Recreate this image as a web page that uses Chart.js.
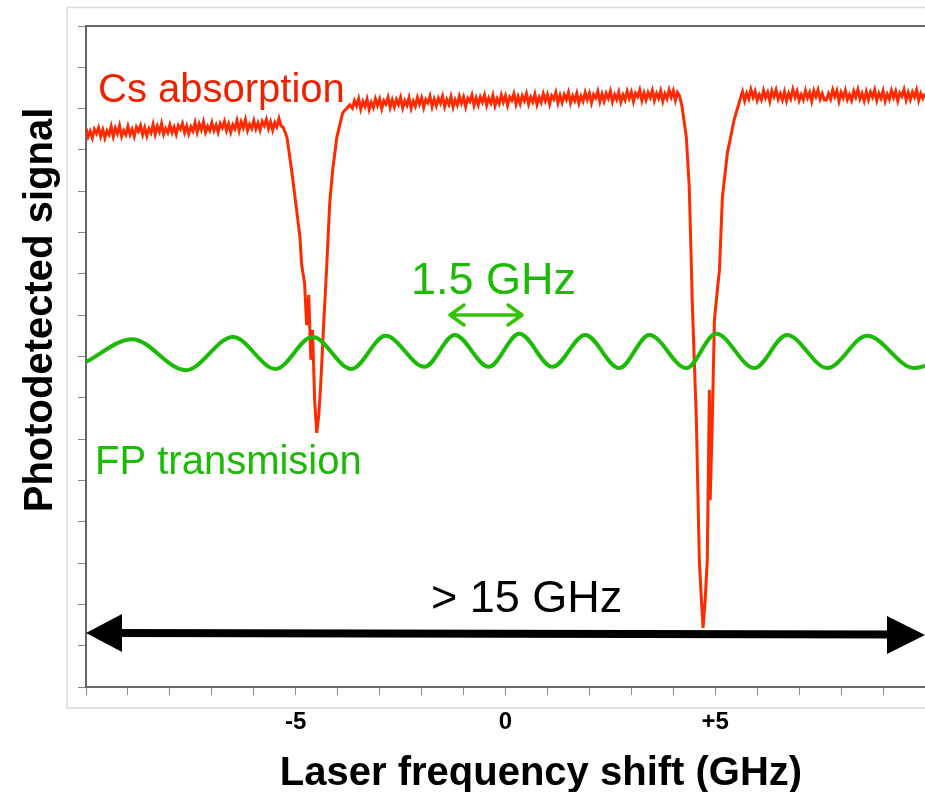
<!DOCTYPE html>
<html>
<head>
<meta charset="utf-8">
<script src="https://cdn.jsdelivr.net/npm/chart.js@4.4.1/dist/chart.umd.min.js"></script>
<style>
  body { margin: 0; background: #fff; }
  canvas { display: block; }
</style>
</head>
<body>
<canvas id="spectrum" width="925" height="792"></canvas>
<script>
// laser sweep range (GHz) and y range (arbitrary units, 16 divisions)
var freqMin = -10, freqMax = 10;
var signalMin = 0, signalMax = 16;
var labelledTicks = { '-5': '-5', '0': '0', '5': '+5' };

// Cs absorption trace: [frequency GHz, signal]
var csLeftFlat = [
  [-10.00, 13.52], [-9.95, 13.32], [-9.90, 13.45], [-9.85, 13.29], [-9.80, 13.50], [-9.75, 13.40],
  [-9.70, 13.54], [-9.65, 13.33], [-9.60, 13.49], [-9.55, 13.29], [-9.50, 13.46], [-9.45, 13.37],
  [-9.40, 13.57], [-9.35, 13.33], [-9.30, 13.53], [-9.25, 13.40], [-9.20, 13.59], [-9.15, 13.33],
  [-9.10, 13.47], [-9.05, 13.37], [-9.00, 13.57], [-8.95, 13.37], [-8.90, 13.50], [-8.85, 13.33],
  [-8.80, 13.55], [-8.75, 13.45], [-8.70, 13.59], [-8.65, 13.37], [-8.60, 13.54], [-8.55, 13.34],
  [-8.50, 13.51], [-8.45, 13.41], [-8.40, 13.62], [-8.35, 13.38], [-8.30, 13.58], [-8.25, 13.44],
  [-8.20, 13.64], [-8.15, 13.38], [-8.10, 13.52], [-8.05, 13.42], [-8.00, 13.61], [-7.95, 13.42],
  [-7.90, 13.55], [-7.85, 13.38], [-7.80, 13.59], [-7.75, 13.50], [-7.70, 13.64], [-7.65, 13.42],
  [-7.60, 13.58], [-7.55, 13.39], [-7.50, 13.56], [-7.45, 13.46], [-7.40, 13.66], [-7.35, 13.43],
  [-7.30, 13.63], [-7.25, 13.49], [-7.20, 13.68], [-7.15, 13.43], [-7.10, 13.57], [-7.05, 13.47],
  [-7.00, 13.66], [-6.95, 13.47], [-6.90, 13.60], [-6.85, 13.43], [-6.80, 13.64], [-6.75, 13.54],
  [-6.70, 13.69], [-6.65, 13.47], [-6.60, 13.63], [-6.55, 13.43], [-6.50, 13.61], [-6.45, 13.51],
  [-6.40, 13.71], [-6.35, 13.47], [-6.30, 13.68], [-6.25, 13.54], [-6.20, 13.73], [-6.15, 13.47],
  [-6.10, 13.62], [-6.05, 13.52], [-6.00, 13.71], [-5.95, 13.51], [-5.90, 13.65], [-5.85, 13.48],
  [-5.80, 13.69], [-5.75, 13.59], [-5.70, 13.74], [-5.65, 13.52], [-5.60, 13.68], [-5.55, 13.48],
  [-5.50, 13.66], [-5.45, 13.56], [-5.40, 13.76], [-5.35, 13.58]
];
var csDipLow = [
  [-5.30, 13.55], [-5.21, 13.31], [-5.10, 12.52], [-4.98, 11.55], [-4.90, 10.89], [-4.86, 10.22],
  [-4.79, 9.78], [-4.74, 8.76], [-4.69, 9.49], [-4.64, 7.92], [-4.60, 8.64], [-4.55, 6.95],
  [-4.50, 6.15], [-4.45, 6.58], [-4.40, 7.43], [-4.33, 8.88], [-4.26, 10.22], [-4.19, 11.72],
  [-4.12, 12.52], [-4.02, 13.31], [-3.88, 13.90], [-3.71, 14.09]
];
var csMidFlat = [
  [-3.65, 14.01], [-3.60, 14.19], [-3.55, 14.07], [-3.50, 14.24], [-3.45, 13.99], [-3.40, 14.17],
  [-3.35, 14.05], [-3.30, 14.23], [-3.25, 13.98], [-3.20, 14.15], [-3.15, 14.03], [-3.10, 14.24],
  [-3.05, 14.08], [-3.00, 14.23], [-2.95, 14.00], [-2.90, 14.19], [-2.85, 14.11], [-2.80, 14.27],
  [-2.75, 14.03], [-2.70, 14.21], [-2.65, 14.04], [-2.60, 14.22], [-2.55, 14.10], [-2.50, 14.27],
  [-2.45, 14.02], [-2.40, 14.19], [-2.35, 14.08], [-2.30, 14.26], [-2.25, 14.01], [-2.20, 14.18],
  [-2.15, 14.06], [-2.10, 14.27], [-2.05, 14.11], [-2.00, 14.26], [-1.95, 14.03], [-1.90, 14.22],
  [-1.85, 14.14], [-1.80, 14.30], [-1.75, 14.05], [-1.70, 14.23], [-1.65, 14.07], [-1.60, 14.25],
  [-1.55, 14.13], [-1.50, 14.30], [-1.45, 14.05], [-1.40, 14.22], [-1.35, 14.10], [-1.30, 14.29],
  [-1.25, 14.04], [-1.20, 14.21], [-1.15, 14.09], [-1.10, 14.30], [-1.05, 14.13], [-1.00, 14.28],
  [-0.95, 14.05], [-0.90, 14.25], [-0.85, 14.17], [-0.80, 14.33], [-0.75, 14.08], [-0.70, 14.26],
  [-0.65, 14.09], [-0.60, 14.28], [-0.55, 14.16], [-0.50, 14.33], [-0.45, 14.08], [-0.40, 14.25],
  [-0.35, 14.13], [-0.30, 14.32], [-0.25, 14.07], [-0.20, 14.24], [-0.15, 14.12], [-0.10, 14.33],
  [-0.05, 14.16], [0.00, 14.31], [0.05, 14.08], [0.10, 14.28], [0.15, 14.20], [0.20, 14.36],
  [0.25, 14.11], [0.30, 14.29], [0.35, 14.12], [0.40, 14.31], [0.45, 14.19], [0.50, 14.36],
  [0.55, 14.11], [0.60, 14.28], [0.65, 14.16], [0.70, 14.35], [0.75, 14.10], [0.80, 14.27],
  [0.85, 14.15], [0.90, 14.36], [0.95, 14.19], [1.00, 14.34], [1.05, 14.11], [1.10, 14.31],
  [1.15, 14.23], [1.20, 14.39], [1.25, 14.14], [1.30, 14.32], [1.35, 14.15], [1.40, 14.34],
  [1.45, 14.22], [1.50, 14.39], [1.55, 14.14], [1.60, 14.31], [1.65, 14.19], [1.70, 14.37],
  [1.75, 14.13], [1.80, 14.30], [1.85, 14.18], [1.90, 14.39], [1.95, 14.22], [2.00, 14.37],
  [2.05, 14.14], [2.10, 14.34], [2.15, 14.26], [2.20, 14.42], [2.25, 14.17], [2.30, 14.35],
  [2.35, 14.18], [2.40, 14.37], [2.45, 14.25], [2.50, 14.42], [2.55, 14.17], [2.60, 14.34],
  [2.65, 14.22], [2.70, 14.40], [2.75, 14.16], [2.80, 14.33], [2.85, 14.21], [2.90, 14.42],
  [2.95, 14.25], [3.00, 14.40], [3.05, 14.17], [3.10, 14.37], [3.15, 14.29], [3.20, 14.45],
  [3.25, 14.20], [3.30, 14.38], [3.35, 14.21], [3.40, 14.39], [3.45, 14.27], [3.50, 14.44],
  [3.55, 14.20], [3.60, 14.37], [3.65, 14.25], [3.70, 14.43], [3.75, 14.18], [3.80, 14.36],
  [3.85, 14.24], [3.90, 14.45], [3.95, 14.28], [4.00, 14.43], [4.05, 14.20], [4.10, 14.39],
  [4.15, 14.31]
];
var csDipHigh = [
  [4.21, 14.04], [4.31, 13.31], [4.38, 12.10], [4.43, 10.22], [4.45, 9.37], [4.55, 6.46],
  [4.62, 3.07], [4.67, 2.11], [4.71, 1.43], [4.76, 2.11], [4.81, 3.07], [4.86, 7.19],
  [4.88, 4.53], [4.93, 6.46], [4.98, 8.88], [5.05, 9.61], [5.10, 10.09], [5.17, 11.86],
  [5.29, 12.93], [5.45, 13.73], [5.60, 14.25]
];
var csRightFlat = [
  [5.65, 14.41], [5.70, 14.19], [5.75, 14.37], [5.80, 14.24], [5.85, 14.46], [5.90, 14.28],
  [5.95, 14.42], [6.00, 14.20], [6.05, 14.34], [6.10, 14.22], [6.15, 14.44], [6.20, 14.26],
  [6.25, 14.39], [6.30, 14.18], [6.35, 14.43], [6.40, 14.29], [6.45, 14.45], [6.50, 14.23],
  [6.55, 14.36], [6.60, 14.21], [6.65, 14.41], [6.70, 14.19], [6.75, 14.37], [6.80, 14.24],
  [6.85, 14.46], [6.90, 14.28], [6.95, 14.42], [7.00, 14.20], [7.05, 14.34], [7.10, 14.22],
  [7.15, 14.44], [7.20, 14.26], [7.25, 14.39], [7.30, 14.18], [7.35, 14.43], [7.40, 14.29],
  [7.45, 14.45], [7.50, 14.23], [7.55, 14.36], [7.60, 14.21], [7.65, 14.21], [7.70, 14.36],
  [7.75, 14.23], [7.80, 14.45], [7.85, 14.29], [7.90, 14.43], [7.95, 14.18], [8.00, 14.39],
  [8.05, 14.26], [8.10, 14.44], [8.15, 14.22], [8.20, 14.34], [8.25, 14.20], [8.30, 14.42],
  [8.35, 14.28], [8.40, 14.46], [8.45, 14.24], [8.50, 14.37], [8.55, 14.19], [8.60, 14.41],
  [8.65, 14.22], [8.70, 14.40], [8.75, 14.28], [8.80, 14.45], [8.85, 14.20], [8.90, 14.37],
  [8.95, 14.25], [9.00, 14.43], [9.05, 14.18], [9.10, 14.35], [9.15, 14.23], [9.20, 14.44],
  [9.25, 14.27], [9.30, 14.42], [9.35, 14.19], [9.40, 14.38], [9.45, 14.30], [9.50, 14.46],
  [9.55, 14.21], [9.60, 14.39], [9.65, 14.22], [9.70, 14.40], [9.75, 14.28], [9.80, 14.45],
  [9.85, 14.20], [9.90, 14.37], [9.95, 14.25], [10.00, 14.36]
];

// Fabry-Perot transmission fringes: peaks and troughs
var fpPoints = [
  [-10.0, 7.87], [-8.90, 8.42], [-7.62, 7.67], [-6.50, 8.47], [-5.48, 7.70], [-4.60, 8.47],
  [-3.67, 7.70], [-2.86, 8.50], [-1.93, 7.75], [-1.21, 8.52], [-0.40, 7.75], [0.33, 8.55],
  [1.12, 7.75], [1.90, 8.52], [2.71, 7.72], [3.43, 8.52], [4.31, 7.72], [5.02, 8.55],
  [5.93, 7.72], [6.71, 8.52], [7.67, 7.72], [8.62, 8.50], [9.74, 7.72], [10.0, 7.77]
];

var csTrace = csLeftFlat.concat(csDipLow, csMidFlat, csDipHigh, csRightFlat);

function toXY(pairs) {
  return pairs.map(function (p) { return { x: p[0], y: p[1] }; });
}

var RED = '#ff2a00';
var GREEN = '#1bbb05';
var FONT = '"Liberation Sans", Arial, sans-serif';

function arrowHead(ctx, tipX, tipY, dir, len, half) {
  ctx.beginPath();
  ctx.moveTo(tipX, tipY);
  ctx.lineTo(tipX + dir * len, tipY - half);
  ctx.lineTo(tipX + dir * len, tipY + half);
  ctx.closePath();
  ctx.fill();
}

var decorations = {
  id: 'decorations',
  beforeDraw: function (chart) {
    var ctx = chart.ctx;
    ctx.save();
    ctx.strokeStyle = '#dcdcdc';
    ctx.lineWidth = 1.5;
    ctx.strokeRect(67, 7.5, 880, 700.5);
    ctx.restore();
  },
  afterDraw: function (chart) {
    var ctx = chart.ctx;
    var area = chart.chartArea;
    ctx.save();

    // top frame line of the plot box
    ctx.strokeStyle = '#666';
    ctx.lineWidth = 2;
    ctx.beginPath();
    ctx.moveTo(area.left, area.top);
    ctx.lineTo(area.right, area.top);
    ctx.stroke();

    // axis titles
    ctx.fillStyle = '#000';
    ctx.font = 'bold 40px ' + FONT;
    ctx.textAlign = 'center';
    ctx.textBaseline = 'alphabetic';
    ctx.fillText('Laser frequency shift (GHz)', 541, 785);
    ctx.save();
    ctx.translate(52, 310);
    ctx.rotate(-Math.PI / 2);
    ctx.fillText('Photodetected signal', 0, 0);
    ctx.restore();

    // trace labels
    ctx.textAlign = 'left';
    ctx.font = '40px ' + FONT;
    ctx.fillStyle = '#ee2200';
    ctx.fillText('Cs absorption', 98, 102);
    ctx.fillStyle = GREEN;
    ctx.fillText('FP transmision', 95, 474);
    ctx.font = '45px ' + FONT;
    ctx.fillText('1.5 GHz', 411, 294);
    ctx.fillStyle = '#000';
    ctx.fillText('> 15 GHz', 431, 612);

    // fringe spacing arrow
    ctx.strokeStyle = '#33c400';
    ctx.lineWidth = 3.5;
    ctx.lineCap = 'round';
    ctx.lineJoin = 'round';
    ctx.beginPath();
    ctx.moveTo(450, 315); ctx.lineTo(522, 315);
    ctx.moveTo(464, 305); ctx.lineTo(450, 315); ctx.lineTo(464, 325);
    ctx.moveTo(508, 305); ctx.lineTo(522, 315); ctx.lineTo(508, 325);
    ctx.stroke();

    // full sweep arrow
    ctx.strokeStyle = '#000';
    ctx.fillStyle = '#000';
    ctx.lineWidth = 8;
    ctx.lineCap = 'butt';
    ctx.beginPath();
    ctx.moveTo(115, 633); ctx.lineTo(895, 634.5);
    ctx.stroke();
    arrowHead(ctx, 86, 633, 1, 36, 19);
    arrowHead(ctx, 925, 635, -1, 38, 19);

    ctx.restore();
  }
};

var ctx = document.getElementById('spectrum').getContext('2d');
var myChart = new Chart(ctx, {
  type: 'line',
  data: {
    datasets: [{
      label: 'Cs absorption',
      data: toXY(csTrace),
      borderColor: RED,
      borderWidth: 3,
      pointRadius: 0,
      tension: 0,
      order: 2
    },
    {
      label: 'FP transmision',
      data: toXY(fpPoints),
      borderColor: GREEN,
      borderWidth: 4,
      pointRadius: 0,
      cubicInterpolationMode: 'monotone',
      order: 1
    }]
  },
  options: {
    responsive: false,
    animation: false,
    layout: { padding: { top: 26, right: 0, left: 0, bottom: 0 } },
    plugins: { legend: { display: false }, tooltip: { enabled: false } },
    scales: {
      x: {
        type: 'linear',
        min: freqMin,
        max: freqMax,
        afterFit: function (scale) {
          scale.height = 105;
          scale.paddingLeft = 0;
          scale.paddingRight = 0;
        },
        border: { color: '#666', width: 2 },
        grid: { drawOnChartArea: false, tickLength: 8, tickColor: '#888', lineWidth: 1 },
        ticks: {
          stepSize: 1,
          autoSkip: false,
          maxRotation: 0,
          padding: 13,
          color: '#000',
          font: { family: FONT, size: 24, weight: 'bold' },
          callback: function (v) { return labelledTicks[String(v)] || ''; }
        }
      },
      y: {
        min: signalMin,
        max: signalMax,
        afterFit: function (scale) { scale.width = 86; },
        border: { color: '#666', width: 2 },
        grid: { drawOnChartArea: false, tickLength: 8, tickColor: '#888', lineWidth: 1 },
        ticks: { stepSize: 1, display: false }
      }
    }
  },
  plugins: [decorations]
});
</script>
</body>
</html>
